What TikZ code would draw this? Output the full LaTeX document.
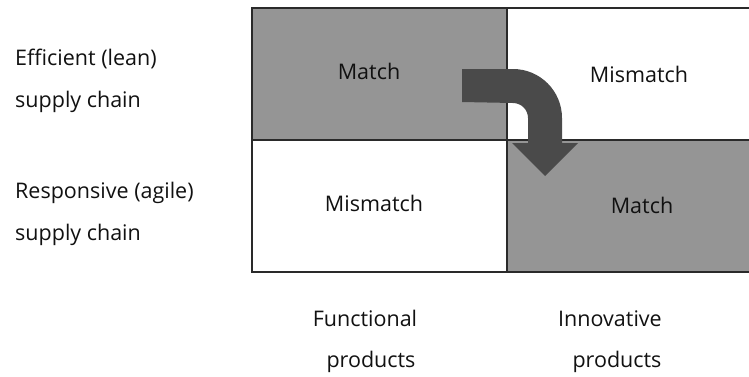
\documentclass[tikz,border=0pt]{standalone}
\usepackage{fontspec}
\setmainfont{Open Sans}
\definecolor{cellgray}{HTML}{959595}
\definecolor{arrowgray}{HTML}{4A4A4A}
\definecolor{txt}{HTML}{111111}
\definecolor{gridline}{HTML}{2A2A2A}
\tikzset{
  lbl/.style={anchor=base, inner sep=0pt, text=txt, font=\fontsize{21.5}{25}\selectfont},
  lbll/.style={lbl, anchor=base west},
  gridl/.style={draw=gridline, line width=1.3pt},
}
\begin{document}
\begin{tikzpicture}[x=1pt,y=-1pt]
\useasboundingbox (0,0) rectangle (749,376);
% cells
\fill[cellgray] (252,8) rectangle (507,140);
\fill[cellgray] (507,140) rectangle (749,272);
\draw[gridl] (749,8) -- (252,8) -- (252,272) -- (749,272);
\draw[gridl] (252,140) -- (749,140);
\draw[gridl] (507,8) -- (507,272);
% arrow
\fill[arrowgray] (462,69) -- (513,69) arc[start angle=-90,end angle=0,radius=49]
  -- (562,143) -- (578,143) -- (545,176) -- (512,143) -- (528,143) -- (528,118)
  arc[start angle=0,end angle=-90,radius=15] -- (462,102) -- cycle;
% cell texts
\node[lbl] (m1) at (369,79) {Match};
\node[lbl] (mm1) at (639,82) {Mismatch};
\node[lbl] (mm2) at (374,211) {Mismatch};
\node[lbl] (m2) at (642,213) {Match};
% row labels
\node[lbll] (r1a) at (15,65) {Efficient (lean)};
\node[lbll] (r1b) at (15,107) {supply chain};
\node[lbll] (r2a) at (15,198) {Responsive (agile)};
\node[lbll] (r2b) at (15,240) {supply chain};
% column labels
\node[lbl] (c1a) at (365,326) {Functional};
\node[lbl] (c1b) at (371,367) {products};
\node[lbl] (c2a) at (610,326) {Innovative};
\node[lbl] (c2b) at (617,367) {products};
\end{tikzpicture}
\end{document}
